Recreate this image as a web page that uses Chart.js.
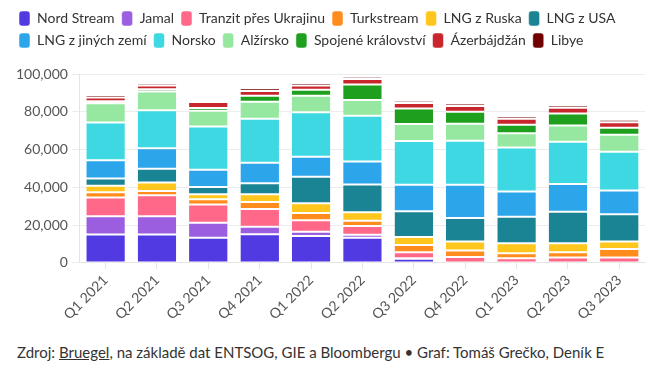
<!DOCTYPE html>
<html>
<head>
<meta charset="utf-8">
<script src="https://cdn.jsdelivr.net/npm/chart.js@4/dist/chart.umd.min.js"></script>
<style>
  body { margin: 0; background: #fff; font-family: Lato, sans-serif; }
  #wrap { position: relative; width: 660px; height: 326px; }
  #zdroj { position: absolute; top: 343px; left: 17px; margin: 0; font-size: 15px; color: #333; }
  #zdroj u { text-decoration: underline; }
</style>
</head>
<body>
<div id="wrap"><canvas id="mycanvas"></canvas></div>
<p id="zdroj">Zdroj: <u>Bruegel</u>, na základě dat ENTSOG, GIE a Bloombergu • Graf: Tomáš Grečko, Deník E</p>
<script>
// ctvrtleti
var kvartaly = ['Q1 2021','Q2 2021','Q3 2021','Q4 2021','Q1 2022','Q2 2022','Q3 2022','Q4 2022','Q1 2023','Q2 2023','Q3 2023'];
var yTicks = [0, 20000, 40000, 60000, 80000, 100000];

// dovoz plynu, mil. m3 (odhad z grafu)
var nordStream = [15000, 15000, 13400, 15200, 14200, 13300, 2200, 0, 0, 0, 0];
var jamal      = [9700, 9700, 7900, 3900, 2300, 1600, 300, 0, 0, 0, 0];
var tranzit    = [10000, 11100, 9700, 9500, 6100, 4700, 3200, 3200, 2500, 2900, 2900];
var turkstream = [2700, 2300, 2700, 3600, 3800, 2700, 3800, 3400, 2700, 2700, 4500];
var lngRusko   = [3400, 4500, 2700, 4100, 5200, 4500, 4300, 4700, 5200, 4800, 3900];
var lngUsa     = [3900, 7200, 3800, 5900, 14000, 14700, 13600, 12500, 14000, 16700, 14500];
var lngJine    = [9700, 10900, 9100, 10800, 10600, 12200, 14000, 17600, 13400, 14700, 12500];
var norsko     = [19900, 20100, 22900, 23300, 23500, 24200, 23200, 23300, 23300, 22400, 20600];
var alzirsko   = [10200, 9900, 8400, 9000, 8800, 8400, 9000, 9000, 7500, 8600, 9000];
var uk         = [1100, 1200, 1400, 3200, 3200, 8100, 8100, 6300, 4500, 6300, 3600];
var azerbajdzan= [2000, 2000, 3200, 2500, 2200, 3000, 3000, 3000, 3200, 3000, 3000];
var libye      = [1300, 1200, 1100, 1400, 1400, 1100, 1100, 1400, 1300, 1400, 1300];

var serie = [
  ['Nord Stream', nordStream, 'rgb(82, 58, 226)'],
  ['Jamal', jamal, 'rgb(155, 94, 224)'],
  ['Tranzit přes Ukrajinu', tranzit, 'rgb(255, 104, 136)'],
  ['Turkstream', turkstream, 'rgb(255, 140, 28)'],
  ['LNG z Ruska', lngRusko, 'rgb(255, 199, 30)'],
  ['LNG z USA', lngUsa, 'rgb(26, 132, 148)'],
  ['LNG z jiných zemí', lngJine, 'rgb(44, 165, 234)'],
  ['Norsko', norsko, 'rgb(62, 216, 227)'],
  ['Alžírsko', alzirsko, 'rgb(150, 232, 160)'],
  ['Spojené království', uk, 'rgb(30, 160, 30)'],
  ['Ázerbájdžán', azerbajdzan, 'rgb(200, 38, 44)'],
  ['Libye', libye, 'rgb(112, 0, 0)']
];

var datasets = [];
for (var i in serie) {
  datasets.push({
    label: serie[i][0],
    data: serie[i][1],
    backgroundColor: serie[i][2],
    borderColor: '#fff',
    borderWidth: {top: 1, bottom: 1, left: 0, right: 0},
    borderSkipped: false,
    barPercentage: 0.75,
    categoryPercentage: 1
  });
}

// mezera pod legendou
var legendGap = {
  id: 'legendGap',
  beforeInit: function(chart) {
    var origFit = chart.legend.fit;
    chart.legend.fit = function() {
      origFit.bind(chart.legend)();
      this.height += 16;
    };
  }
};

Chart.defaults.font.family = 'Lato, sans-serif';
Chart.defaults.color = '#666';

var ctx = document.getElementById('mycanvas');
new Chart(ctx, {
  type: 'bar',
  data: { labels: kvartaly, datasets: datasets },
  plugins: [legendGap],
  options: {
    responsive: true,
    maintainAspectRatio: false,
    animation: false,
    locale: 'en-US',
    layout: { padding: { left: 12, right: 15, top: 4, bottom: 0 } },
    plugins: {
      tooltip: { enabled: false },
      legend: {
        position: 'top',
        align: 'start',
        labels: {
          color: '#333',
          font: { size: 14 },
          boxWidth: 11,
          boxHeight: 15,
          padding: 7,
          useBorderRadius: true,
          borderRadius: 3
        }
      }
    },
    scales: {
      x: {
        stacked: true,
        grid: { offset: false, drawOnChartArea: false, drawTicks: true, tickLength: 6, color: '#e4e4e4' },
        border: { color: '#e4e4e4' },
        ticks: { font: { size: 14 }, maxRotation: 45, minRotation: 45, color: '#555' }
      },
      y: {
        stacked: true,
        min: 0,
        max: 100000,
        afterBuildTicks: function(axis) { axis.ticks = yTicks.map(function(v){ return {value: v}; }); },
        grid: { color: '#ececec', tickLength: 8 },
        border: { color: '#e4e4e4' },
        ticks: { font: { size: 14 }, color: '#555', padding: 4 }
      }
    }
  }
});
</script>
</body>
</html>
